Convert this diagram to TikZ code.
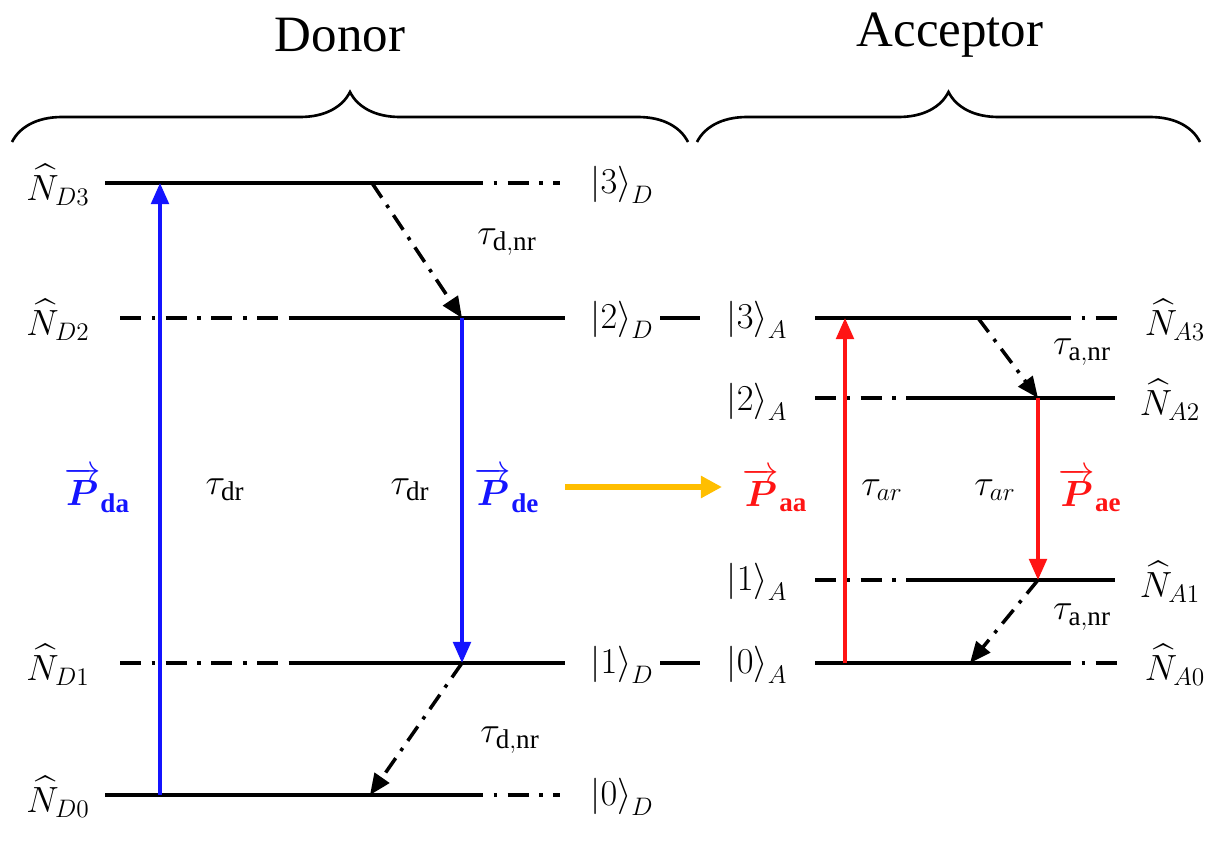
\documentclass[tikz,border=0pt]{standalone}
\usepackage{amsmath,bm}
\usepackage{fontspec}
\setmainfont{Liberation Serif}
\usetikzlibrary{decorations.pathreplacing,arrows.meta}
\definecolor{pblue}{RGB}{20,20,255}
\definecolor{pred}{RGB}{255,20,20}
\definecolor{porange}{RGB}{255,190,0}
\begin{document}
\begin{tikzpicture}[x=0.02cm,y=-0.02cm,line width=1.6pt,
  lvl/.style={line width=2pt},
  dd/.style={line width=2pt,dash pattern=on 12pt off 6pt on 2pt off 6pt},
  lab/.style={font=\fontsize{22}{26}\selectfont,inner sep=1pt},
  ptr/.style={-{Triangle[length=12pt,width=10pt]},line width=2pt},
  relax/.style={-{Triangle[length=12pt,width=10pt]},line width=2pt,dash pattern=on 10pt off 5pt on 2pt off 5pt}]
\useasboundingbox (0,0) rectangle (1224,848);
% braces and titles
\draw[line width=1.5pt,decorate,decoration={brace,amplitude=1cm}] (12,142) -- (688,142);
\draw[line width=1.5pt,decorate,decoration={brace,amplitude=1cm}] (697,142) -- (1200,142);
\node[font=\fontsize{29}{33}\selectfont] (donor) at (340,35) {Donor};
\node[font=\fontsize{29}{33}\selectfont] (acceptor) at (950,35) {Acceptor};
% donor levels
\draw[lvl] (105,183) -- (462,183); \draw[dd] (462,183) -- (560,183);
\draw[dd] (120,318) -- (290,318); \draw[lvl] (290,318) -- (565,318);
\draw[dd] (120,663) -- (290,663); \draw[lvl] (290,663) -- (565,663);
\draw[lvl] (105,795) -- (462,795); \draw[dd] (462,795) -- (560,795);
\draw[lvl] (660,318) -- (700,318); \draw[lvl] (660,663) -- (700,663);
% acceptor levels
\draw[lvl] (815,318) -- (1050,318); \draw[dd] (1050,318) -- (1120,318);
\draw[dd] (815,398) -- (925,398); \draw[lvl] (925,398) -- (1115,398);
\draw[dd] (815,580) -- (925,580); \draw[lvl] (925,580) -- (1115,580);
\draw[lvl] (815,663) -- (1050,663); \draw[dd] (1050,663) -- (1120,663);
% level labels
\node[lab] (nd3) at (58,185) {$\widehat{N}_{D3}$};
\node[lab] (nd2) at (58,320) {$\widehat{N}_{D2}$};
\node[lab] (nd1) at (58,665) {$\widehat{N}_{D1}$};
\node[lab] (nd0) at (58,797) {$\widehat{N}_{D0}$};
\node[lab] (k3d) at (622,185) {$\left|3\right\rangle_D$};
\node[lab] (k2d) at (622,320) {$\left|2\right\rangle_D$};
\node[lab] (k1d) at (622,665) {$\left|1\right\rangle_D$};
\node[lab] (k0d) at (622,797) {$\left|0\right\rangle_D$};
\node[lab] (k3a) at (757,320) {$\left|3\right\rangle_A$};
\node[lab] (k2a) at (757,402) {$\left|2\right\rangle_A$};
\node[lab] (k1a) at (757,582) {$\left|1\right\rangle_A$};
\node[lab] (k0a) at (757,665) {$\left|0\right\rangle_A$};
\node[lab] (na3) at (1175,320) {$\widehat{N}_{A3}$};
\node[lab] (na2) at (1170,400) {$\widehat{N}_{A2}$};
\node[lab] (na1) at (1170,582) {$\widehat{N}_{A1}$};
\node[lab] (na0) at (1175,665) {$\widehat{N}_{A0}$};
% transition end points
\coordinate (dab) at (160,795); \coordinate (dat) at (160,183);
\coordinate (det) at (462,318); \coordinate (deb) at (462,663);
\coordinate (nr1s) at (372,183); \coordinate (nr2e) at (370,795);
\coordinate (aab) at (845,663); \coordinate (aat) at (845,318);
\coordinate (aet) at (1038,398); \coordinate (aeb) at (1038,580);
\coordinate (nr3s) at (978,318); \coordinate (nr4e) at (970,663);
\coordinate (fs) at (565,487); \coordinate (fe) at (722,487);
% transitions
\draw[ptr,pblue] (dab) -- (dat);
\draw[ptr,pblue] (det) -- (deb);
\draw[ptr,pred] (aab) -- (aat);
\draw[ptr,pred] (aet) -- (aeb);
\draw[relax] (nr1s) -- (det);
\draw[relax] (deb) -- (nr2e);
\draw[relax] (nr3s) -- (aet);
\draw[relax] (aeb) -- (nr4e);
\draw[-{Triangle[length=12pt,width=12pt]},line width=3.5pt,porange] (fs) -- (fe);
% transition labels
\node[lab,pblue] (pda) at (97,490) {$\overrightarrow{\bm{P}}_{\mathbf{da}}$};
\node[lab] (tdr1) at (225,490) {$\tau_{\mathrm{dr}}$};
\node[lab] (tdr2) at (410,490) {$\tau_{\mathrm{dr}}$};
\node[lab,pblue] (pde) at (507,490) {$\overrightarrow{\bm{P}}_{\mathbf{de}}$};
\node[lab] (tdnr1) at (507,242) {$\tau_{\mathrm{d,nr}}$};
\node[lab] (tdnr2) at (510,740) {$\tau_{\mathrm{d,nr}}$};
\node[lab,pred] (paa) at (775,490) {$\overrightarrow{\bm{P}}_{\mathbf{aa}}$};
\node[lab] (tar1) at (882,490) {$\tau_{ar}$};
\node[lab] (tar2) at (995,490) {$\tau_{ar}$};
\node[lab,pred] (pae) at (1090,490) {$\overrightarrow{\bm{P}}_{\mathbf{ae}}$};
\node[lab] (tanr1) at (1082,352) {$\tau_{\mathrm{a,nr}}$};
\node[lab] (tanr2) at (1082,617) {$\tau_{\mathrm{a,nr}}$};
\end{tikzpicture}
\end{document}
